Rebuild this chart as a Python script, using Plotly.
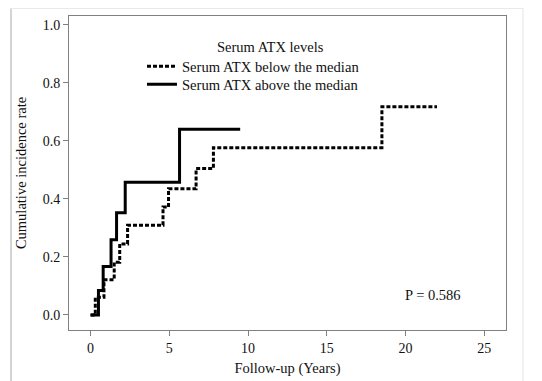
import plotly.graph_objects as go

# Data
below_times = [0, 0.3, 0.85, 1.5, 1.85, 2.35, 4.6, 4.95, 6.7, 7.8, 18.5, 22.0]
below_rates = [0, 0.061, 0.121, 0.182, 0.245, 0.309, 0.372, 0.435, 0.505, 0.577, 0.718, 0.718]
above_times = [0, 0.5, 0.8, 1.3, 1.65, 2.2, 5.65, 9.5]
above_rates = [0, 0.084, 0.167, 0.259, 0.352, 0.458, 0.64, 0.64]
x_ticks = [0, 5, 10, 15, 20, 25]
y_ticks = [0.0, 0.2, 0.4, 0.6, 0.8, 1.0]
y_tick_labels = ["0.0", "0.2", "0.4", "0.6", "0.8", "1.0"]
legend_names = ["Serum ATX below the median", "Serum ATX above the median"]
legend_title = "Serum ATX levels"
p_text = "P = 0.586"

FONT = "Liberation Serif, Times New Roman, serif"
AXC = "#808080"

fig = go.Figure()
fig.add_trace(go.Scatter(x=below_times, y=below_rates, mode="lines", line_shape="hv",
                         name=legend_names[0], legend="legend",
                         line=dict(color="black", width=3, dash="4px,2px")))
fig.add_trace(go.Scatter(x=above_times, y=above_rates, mode="lines", line_shape="hv",
                         name=legend_names[1], legend="legend2",
                         line=dict(color="black", width=3)))

fig.add_annotation(x=21.75, y=0.069, xref="x", yref="y", text=p_text, showarrow=False,
                   font=dict(family=FONT, size=14.5, color="#111"))
fig.add_annotation(x=0.46, y=0.901, xref="paper", yref="paper", text=legend_title,
                   xanchor="center", yanchor="middle",
                   showarrow=False, font=dict(family=FONT, size=14.5, color="#111"))

# light outer frame of the chart region
fig.add_shape(type="line", xref="paper", yref="paper", x0=-0.1327, x1=-0.1327, y0=-0.2, y1=1.024,
              line=dict(color="#a8a8a8", width=1))
fig.add_shape(type="line", xref="paper", yref="paper", x0=-0.1327, x1=1.039, y0=1.024, y1=1.024,
              line=dict(color="#e8e8e8", width=1))
fig.add_shape(type="line", xref="paper", yref="paper", x0=1.039, x1=1.039, y0=1.024, y1=-0.2,
              line=dict(color="#e4e4e4", width=1))

leg_common = dict(xanchor="left", yanchor="middle", bgcolor="rgba(0,0,0,0)", itemwidth=30,
                  font=dict(family=FONT, size=14.6, color="#111"))

fig.update_layout(
    width=534, height=373, autosize=False,
    margin=dict(l=61, r=36, t=8, b=51, pad=0, autoexpand=False),
    paper_bgcolor="white", plot_bgcolor="white",
    font=dict(family=FONT, size=13, color="#111"),
    showlegend=True,
    legend=dict(x=0.167, y=0.840, **leg_common),
    legend2=dict(x=0.167, y=0.783, **leg_common),
    xaxis=dict(range=[-1.37, 26.38], tickvals=x_ticks, ticks="outside", ticklen=5,
               tickcolor=AXC, showline=True, linecolor=AXC, mirror=True, showgrid=False,
               zeroline=False, automargin=False, tickfont=dict(family=FONT, size=14),
               title=dict(text="Follow-up (Years)", standoff=8,
                          font=dict(family=FONT, size=14.5))),
    yaxis=dict(range=[-0.052, 1.031], tickvals=y_ticks, ticktext=y_tick_labels, ticks="outside",
               ticklen=5, tickcolor=AXC, showline=True, linecolor=AXC, mirror=True, showgrid=False,
               zeroline=False, automargin=False, tickfont=dict(family=FONT, size=14),
               title=dict(text="Cumulative incidence rate", standoff=12,
                          font=dict(family=FONT, size=14.5))),
)

fig.write_html("out.html")
